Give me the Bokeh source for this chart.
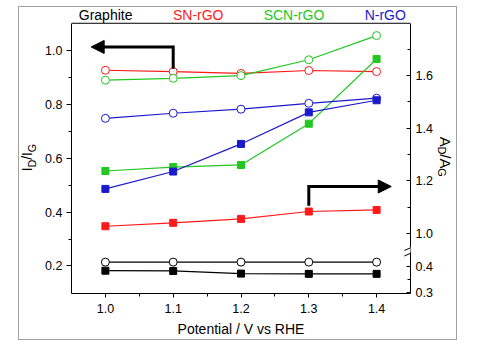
import math
from bokeh.plotting import figure
from bokeh.layouts import row
from bokeh.core.properties import value
from bokeh.models import (Range1d, LinearAxis, FixedTicker, CustomJSTickFormatter,
                          CustomJSTransform, ColumnDataSource, Arrow, NormalHead,
                          BoxAnnotation, PrintfTickFormatter, Span)
from bokeh.transform import transform
from bokeh.embed import file_html
from bokeh.resources import INLINE

# ---------------- data ----------------
potential = [1.0, 1.1, 1.2, 1.3, 1.4]

# I_D/I_G (open circles, left axis)
graphite_idig = [0.214, 0.214, 0.214, 0.214, 0.214]
sn_idig = [0.928, 0.923, 0.916, 0.927, 0.923]
scn_idig = [0.891, 0.898, 0.908, 0.967, 1.057]
n_idig = [0.749, 0.768, 0.783, 0.805, 0.824]

# A_D/A_G (filled squares, right broken axis)
graphite_adag = [0.384, 0.383, 0.373, 0.372, 0.372]
sn_adag = [1.027, 1.040, 1.055, 1.083, 1.089]
scn_adag = [1.237, 1.252, 1.260, 1.417, 1.663]
n_adag = [1.169, 1.235, 1.340, 1.460, 1.506]

series_names = ["Graphite", "SN-rGO", "SCN-rGO", "N-rGO"]
x_ticks = [1.0, 1.1, 1.2, 1.3, 1.4]
x_minor = [1.05, 1.15, 1.25, 1.35]
left_ticks = [0.2, 0.4, 0.6, 0.8, 1.0]
left_minor = [0.3, 0.5, 0.7, 0.9]
right_ticks = [0.3, 0.4, 1.0, 1.2, 1.4, 1.6]
right_minor = [0.35, 1.1, 1.3, 1.5, 1.7]

# broken right axis: lower segment shifted up by OFFSET
OFFSET = 0.474
CUT = 0.7
def brk(v):
    return v + OFFSET if v < CUT else v

colors = ["black", "#ff1a1a", "#22c722", "#1a1acc"]
FONT = "Liberation Sans"

# axis extents (plot box) and full frame extents (frame also holds the names on top)
LEFT_BOX = (0.0972, 1.1028)
RIGHT_BOX = (0.7713, 1.7987)
yr = Range1d(0.0972, 1.1615)

def strip(width, x_range):
    f = figure(width=width, height=332, x_range=x_range, y_range=yr,
               output_backend="svg", toolbar_location=None,
               x_axis_location=None, y_axis_location=None,
               min_border_left=0, min_border_right=0, min_border_top=0, min_border_bottom=42)
    f.xgrid.visible = False
    f.ygrid.visible = False
    f.outline_line_color = None
    f.background_fill_color = "white"
    f.border_fill_color = "white"
    return f

# ---------------- main plot ----------------
p = figure(width=393, height=332, x_range=Range1d(0.95, 1.45), y_range=yr,
           output_backend="svg", toolbar_location=None,
           min_border_left=28, min_border_right=25, min_border_top=0, min_border_bottom=42)
p.extra_y_ranges = {"right": Range1d(0.7713, 1.8587)}
p.xgrid.visible = False
p.ygrid.visible = False
p.outline_line_color = None
p.background_fill_color = "white"
p.border_fill_color = "white"

xa = p.xaxis[0]
xa.ticker = FixedTicker(ticks=x_ticks, minor_ticks=x_minor)
xa.formatter = PrintfTickFormatter(format="%.1f")
xa.axis_label = "Potential / V vs RHE"
xa.axis_label_text_font = FONT
xa.axis_label_text_font_size = "14px"
xa.axis_label_text_font_style = "normal"
xa.axis_label_text_color = "black"
xa.axis_label_standoff = 5
xa.major_label_text_font = FONT
xa.major_label_text_font_size = "12.5px"
xa.major_label_text_color = "black"
xa.major_label_standoff = 6
xa.major_tick_in = 0
xa.major_tick_out = 4
xa.minor_tick_in = 0
xa.minor_tick_out = 3
xa.axis_line_color = "black"

ya = p.yaxis[0]
ya.bounds = LEFT_BOX
ya.ticker = FixedTicker(ticks=left_ticks, minor_ticks=left_minor)
ya.formatter = PrintfTickFormatter(format="%.1f")
ya.major_label_text_font = FONT
ya.major_label_text_font_size = "12.5px"
ya.major_label_text_color = "black"
ya.major_label_standoff = 4
ya.major_tick_in = 0
ya.major_tick_out = 5
ya.minor_tick_in = 0
ya.minor_tick_out = 3
ya.axis_line_color = "black"

fmt = CustomJSTickFormatter(args=dict(off=OFFSET, cut=0.95),
                            code="const v = tick < cut ? tick - off : tick; return v.toFixed(1);")
ra = LinearAxis(y_range_name="right", bounds=RIGHT_BOX,
                ticker=FixedTicker(ticks=[brk(t) for t in right_ticks],
                                   minor_ticks=[brk(t) for t in right_minor]),
                formatter=fmt)
ra.major_label_text_font = FONT
ra.major_label_text_font_size = "12.5px"
ra.major_label_text_color = "black"
ra.major_label_standoff = 5
ra.major_tick_in = 4
ra.major_tick_out = 0
ra.minor_tick_in = 3
ra.minor_tick_out = 0
ra.axis_line_color = "black"
p.add_layout(ra, "right")

# top edge of the plot box
p.add_layout(Span(location=LEFT_BOX[1], dimension="width", line_color="black", line_width=1))

brk_tf = CustomJSTransform(args=dict(off=OFFSET, cut=CUT),
                           func="return x < cut ? x + off : x;",
                           v_func="return xs.map(v => v < cut ? v + off : v);")

idig = [graphite_idig, sn_idig, scn_idig, n_idig]
adag = [graphite_adag, sn_adag, scn_adag, n_adag]
for name, c, yi, ysq in zip(series_names, colors, idig, adag):
    src = ColumnDataSource(dict(x=potential, idig=yi, adag=ysq))
    p.line("x", "idig", source=src, color=c, line_width=1.2)
    p.scatter("x", "idig", source=src, marker="circle", size=8, line_color=c,
              fill_color="white", line_width=1)
    p.line("x", transform("adag", brk_tf), source=src, color=c, line_width=1.2,
           y_range_name="right")
    p.scatter("x", transform("adag", brk_tf), source=src, marker="square", size=7,
              line_color=c, fill_color=c, y_range_name="right")

# ---------- arrows ----------
p.line([1.1, 1.1, 0.994], [0.934, 1.0147, 1.0147], line_width=3, color="black",
       line_join="miter")
p.add_layout(Arrow(x_start=1.02, y_start=1.0147, x_end=0.979, y_end=1.0147,
                   line_color=None,
                   end=NormalHead(size=13, fill_color="black", line_color="black")))
p.line([1.3, 1.3, 1.405], [0.424, 0.4954, 0.4954], line_width=3, color="black",
       line_join="miter")
p.add_layout(Arrow(x_start=1.38, y_start=0.4954, x_end=1.4216, y_end=0.4954,
                   line_color=None,
                   end=NormalHead(size=13, fill_color="black", line_color="black")))

# ---------- axis break ----------
p.add_layout(BoxAnnotation(left=1.44, right=1.46, bottom=0.927, top=0.949,
                           y_range_name="right", fill_color="white", fill_alpha=1,
                           line_color=None, level="overlay"))
for yb in (0.924, 0.945):
    p.add_layout(Arrow(x_start=1.441, y_start=yb - 0.01, x_end=1.459, y_end=yb + 0.01,
                       y_range_name="right", end=None, line_color="black", line_width=1,
                       level="overlay"))

# ---------- series names above the plot box ----------
top_x = [0.9607, 1.0996, 1.2334, 1.3824]
p.text(x=top_x, y=[1.1328] * 4, text=series_names, text_color=colors,
       text_font=value(FONT), text_font_size=value("14px"),
       text_baseline="middle", text_align="left")

# ---------------- left strip: I_D/I_G ----------------
def ly(sy):
    return 1.0 - (sy - 51) / 272.5

left = strip(23, Range1d(19, 42))
left.text(x=[26.9, 26.9], y=[ly(173.0), ly(161.5)], text=["I", "/I"], angle=math.pi / 2,
          text_font=value(FONT), text_font_size=value("14px"), text_color="black",
          text_baseline="middle", text_align="left")
left.text(x=[31.2, 31.2], y=[ly(169.1), ly(153.7)], text=["D", "G"], angle=math.pi / 2,
          text_font=value(FONT), text_font_size=value("10.5px"), text_color="black",
          text_baseline="middle", text_align="left")

# ---------------- right strip: A_D/A_G ----------------
right = strip(21, Range1d(435, 456))
right.text(x=[445.2, 445.2], y=[ly(138.0), ly(155.9)], text=["A", "/A"], angle=-math.pi / 2,
           text_font=value(FONT), text_font_size=value("15px"), text_color="black",
           text_baseline="middle", text_align="left")
right.text(x=[441.2, 441.2], y=[ly(148.0), ly(170.1)], text=["D", "G"], angle=-math.pi / 2,
           text_font=value(FONT), text_font_size=value("11px"), text_color="black",
           text_baseline="middle", text_align="left")

layout = row(left, p, right, spacing=0)
layout.margin = (6, 0, 0, 18)
layout.styles = {"border": "1px solid #a0a0a0", "background-color": "white"}

open("out.html", "w").write(file_html(layout, INLINE))
